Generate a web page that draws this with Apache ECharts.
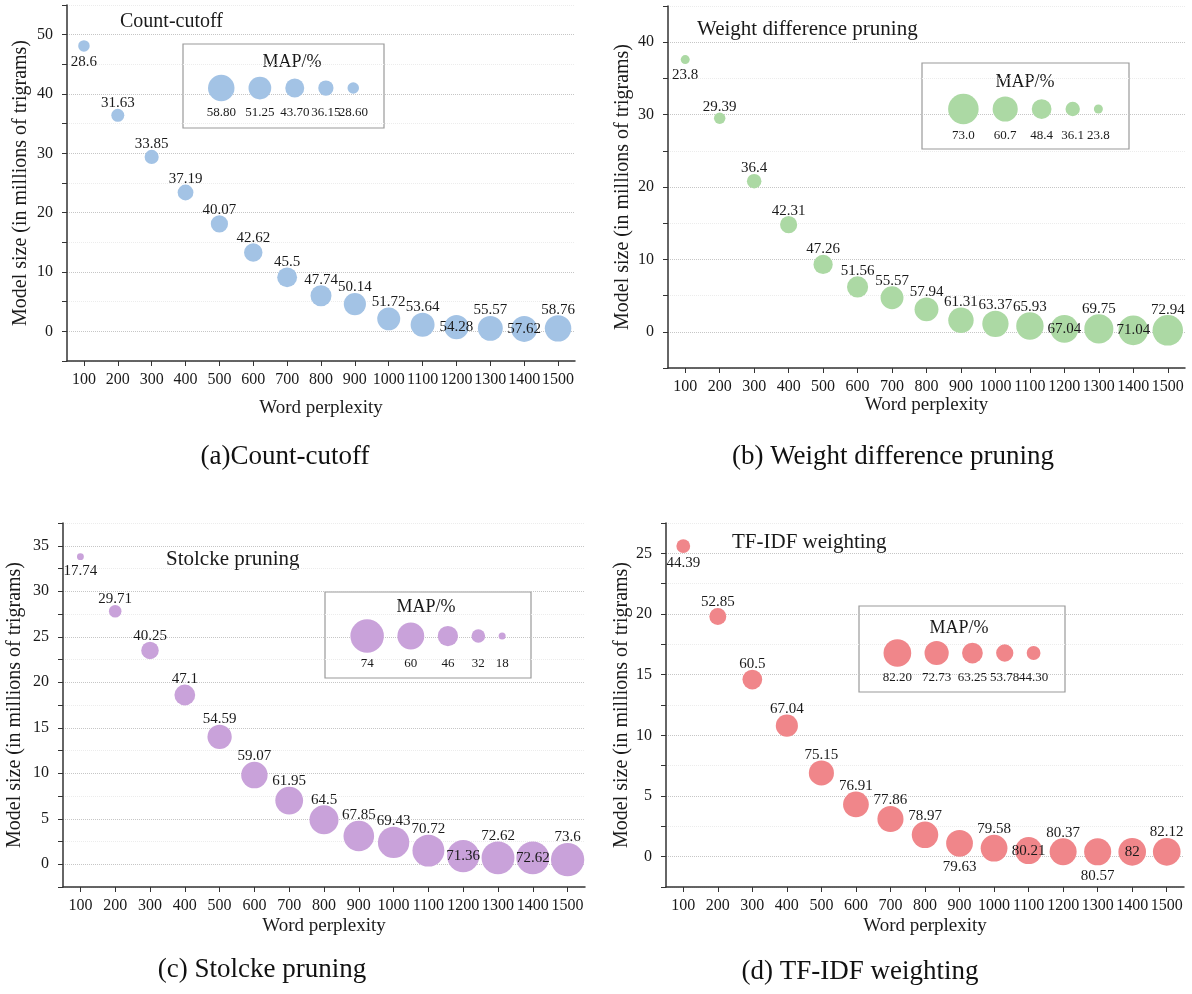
<!DOCTYPE html>
<html>
<head>
<meta charset="utf-8">
<script src="https://cdn.jsdelivr.net/npm/echarts@6/dist/echarts.min.js"></script>
<style>
  html, body { margin: 0; padding: 0; background: #fff; }
  #chart { width: 1192px; height: 994px; }
</style>
</head>
<body>
<div id="chart"></div>
<script>
const perplexity = ['100', '200', '300', '400', '500', '600', '700', '800', '900', '1000', '1100', '1200', '1300', '1400', '1500']

// (a) Count-cutoff
const sizeA = [48.1, 36.4, 29.4, 23.4, 18.1, 13.3, 9.1, 6.0, 4.6, 2.1, 1.1, 0.7, 0.5, 0.4, 0.5]
const mapA = [28.6, 31.63, 33.85, 37.19, 40.07, 42.62, 45.5, 47.74, 50.14, 51.72, 53.64, 54.28, 55.57, 57.62, 58.76]
const legendA = ['58.80', '51.25', '43.70', '36.15', '28.60']

// (b) Weight difference pruning
const sizeB = [37.6, 29.5, 20.8, 14.8, 9.3, 6.2, 4.7, 3.1, 1.6, 1.1, 0.8, 0.4, 0.4, 0.2, 0.2]
const mapB = [23.8, 29.39, 36.4, 42.31, 47.26, 51.56, 55.57, 57.94, 61.31, 63.37, 65.93, 67.04, 69.75, 71.04, 72.94]
const legendB = ['73.0', '60.7', '48.4', '36.1', '23.8']

// (c) Stolcke pruning
const sizeC = [33.8, 27.8, 23.5, 18.6, 14.0, 9.8, 7.0, 4.9, 3.1, 2.4, 1.5, 0.9, 0.7, 0.7, 0.5]
const mapC = [17.74, 29.71, 40.25, 47.1, 54.59, 59.07, 61.95, 64.5, 67.85, 69.43, 70.72, 71.36, 72.62, 72.62, 73.6]
const legendC = ['74', '60', '46', '32', '18']

// (d) TF-IDF weighting
const sizeD = [25.6, 19.8, 14.6, 10.8, 6.9, 4.3, 3.1, 1.8, 1.1, 0.7, 0.5, 0.4, 0.4, 0.4, 0.4]
const mapD = [44.39, 52.85, 60.5, 67.04, 75.15, 76.91, 77.86, 78.97, 79.63, 79.58, 80.21, 80.37, 80.57, 82, 82.12]
const legendD = ['82.20', '72.73', '63.25', '53.78', '44.30']

const serif = 'Liberation Serif'
const ink = '#1a1a1a'

const panels = [
  {
    title: 'Count-cutoff', caption: '(a)Count-cutoff', sizes: sizeA, maps: mapA, legend: legendA, color: '#a3c3e5',
    grid: { left: 67, top: 5, width: 508, height: 356 }, yMin: -5, yMax: 55, yStep: 5, yEvery: 10,
    dot: [28.6, 11.5, 58.8, 26.5],
    box: { left: 183, top: 44, width: 201, height: 84 }, rowY: 44, labelDy: 25, gap: 14, mapTitle: [292, 62],
    titlePos: [120, 22], titleSize: 20, captionPos: [285, 457], nameGap: 36, xNameGap: 38,
    sides: { 0: 'bottom', 11: 'inside', 13: 'inside' }
  },
  {
    title: 'Weight difference pruning', caption: '(b) Weight difference pruning', sizes: sizeB, maps: mapB, legend: legendB, color: '#acd9a4',
    grid: { left: 668, top: 6, width: 517, height: 362 }, yMin: -5, yMax: 45, yStep: 5, yEvery: 10,
    dot: [23.8, 9, 73, 30.5],
    box: { left: 922, top: 63, width: 207, height: 86 }, rowY: 46, labelDy: 27, gap: 14, mapTitle: [1025, 82],
    titlePos: [697, 29], titleSize: 21, captionPos: [893, 457], nameGap: 35, xNameGap: 28,
    sides: { 0: 'bottom', 11: 'inside', 13: 'inside' }
  },
  {
    title: 'Stolcke pruning', caption: '(c) Stolcke pruning', sizes: sizeC, maps: mapC, legend: legendC, color: '#c9a2da',
    grid: { left: 63, top: 523, width: 522, height: 364 }, yMin: -2.5, yMax: 37.5, yStep: 2.5, yEvery: 5,
    dot: [18, 7, 74, 33.5],
    box: { left: 325, top: 592, width: 206, height: 86 }, rowY: 44, labelDy: 28, gap: 13.5, mapTitle: [426, 607],
    titlePos: [166, 559], titleSize: 21, captionPos: [262, 970], nameGap: 38, xNameGap: 30,
    sides: { 0: 'bottom', 11: 'inside', 13: 'inside' }
  },
  {
    title: 'TF-IDF weighting', caption: '(d) TF-IDF weighting', sizes: sizeD, maps: mapD, legend: legendD, color: '#f0868a',
    grid: { left: 666, top: 523, width: 518, height: 364 }, yMin: -2.5, yMax: 27.5, yStep: 2.5, yEvery: 5,
    dot: [44.3, 13.8, 82.2, 27.7],
    box: { left: 859, top: 606, width: 206, height: 86 }, rowY: 47, labelDy: 25, gap: 13.3, mapTitle: [959, 628],
    titlePos: [732, 542], titleSize: 21, captionPos: [860, 972], nameGap: 31, xNameGap: 30,
    sides: { 0: 'bottom', 8: 'bottom', 10: 'inside', 12: 'bottom', 13: 'inside' }
  }
]

// bubble diameter grows linearly with MAP
function diam (p, v) {
  const [v0, d0, v1, d1] = p.dot
  return d0 + (v - v0) * (d1 - d0) / (v1 - v0)
}

// legend bubbles are packed with a fixed gap and centred in the box
function legendXs (p) {
  const ds = p.legend.map(s => diam(p, parseFloat(s)))
  const total = ds.reduce((a, b) => a + b, 0) + p.gap * (ds.length - 1)
  let x = (p.box.width - total) / 2
  return ds.map(d => {
    const c = x + d / 2
    x += d + p.gap
    return c
  })
}

const grid = []
const xAxis = []
const yAxis = []
const series = []
const graphic = []

panels.forEach(p => {
  const axisLine = { show: true, onZero: false, lineStyle: { color: '#333', width: 1.5 } }
  grid.push(Object.assign({}, p.grid))
  xAxis.push({
    gridIndex: grid.length - 1,
    type: 'category',
    data: perplexity,
    boundaryGap: true,
    name: 'Word perplexity',
    nameLocation: 'middle',
    nameGap: p.xNameGap,
    nameTextStyle: { fontFamily: serif, fontSize: 19, color: ink },
    axisLine: axisLine,
    axisTick: { show: true, alignWithLabel: true, length: 5, lineStyle: { color: '#333' } },
    axisLabel: { interval: 0, margin: 11, fontFamily: serif, fontSize: 16, color: ink },
    splitLine: { show: false }
  })
  yAxis.push({
    gridIndex: grid.length - 1,
    type: 'value',
    min: p.yMin,
    max: p.yMax,
    interval: p.yStep,
    name: 'Model size (in millions of trigrams)',
    nameLocation: 'middle',
    nameGap: p.nameGap,
    nameTextStyle: { fontFamily: serif, fontSize: 20, color: ink },
    axisLine: axisLine,
    axisTick: { show: true, length: 5, lineStyle: { color: '#333' } },
    axisLabel: {
      margin: 14, fontFamily: serif, fontSize: 16, color: ink,
      formatter: v => (v % p.yEvery === 0 ? String(v) : '')
    },
    splitLine: { show: true, lineStyle: { type: 'dotted', width: 1, color: ['#ececec', '#c6c6c6'] } }
  })
  series.push({
    type: 'scatter',
    xAxisIndex: xAxis.length - 1,
    yAxisIndex: yAxis.length - 1,
    symbol: 'circle',
    animation: false,
    emphasis: { disabled: true },
    data: p.sizes.map((y, k) => {
      const side = p.sides[k] || 'top'
      return {
        value: [perplexity[k], y, p.maps[k]],
        label: side === 'bottom' ? { position: side, distance: 3 } : { position: side }
      }
    }),
    symbolSize: v => diam(p, v[2]),
    itemStyle: { color: p.color, opacity: 1 },
    label: {
      show: true,
      distance: -2,
      fontFamily: serif,
      fontSize: 15,
      color: ink,
      formatter: q => String(p.maps[q.dataIndex])
    }
  })

  // MAP/% size legend, in its own box
  grid.push({
    left: p.box.left, top: p.box.top, width: p.box.width, height: p.box.height,
    show: true, borderColor: '#9a9a9a', borderWidth: 1.2, backgroundColor: 'transparent'
  })
  xAxis.push({ gridIndex: grid.length - 1, type: 'value', min: 0, max: p.box.width, show: false })
  yAxis.push({ gridIndex: grid.length - 1, type: 'value', min: 0, max: p.box.height, inverse: true, show: false })
  const xs = legendXs(p)
  series.push({
    type: 'scatter',
    xAxisIndex: xAxis.length - 1,
    yAxisIndex: yAxis.length - 1,
    symbol: 'circle',
    animation: false,
    emphasis: { disabled: true },
    data: p.legend.map((s, k) => [xs[k], p.rowY, parseFloat(s)]),
    symbolSize: v => diam(p, v[2]),
    itemStyle: { color: p.color, opacity: 1 },
    label: {
      show: true,
      position: 'inside',
      offset: [0, p.labelDy],
      fontFamily: serif,
      fontSize: 13,
      color: ink,
      formatter: q => p.legend[q.dataIndex]
    }
  })

  graphic.push(
    {
      type: 'text', x: p.titlePos[0], y: p.titlePos[1],
      style: { text: p.title, font: p.titleSize + 'px "' + serif + '"', fill: ink, align: 'left', verticalAlign: 'middle' }
    },
    {
      type: 'text', x: p.mapTitle[0], y: p.mapTitle[1],
      style: { text: 'MAP/%', font: '18px "' + serif + '"', fill: ink, align: 'center', verticalAlign: 'middle' }
    },
    {
      type: 'text', x: p.captionPos[0], y: p.captionPos[1],
      style: { text: p.caption, font: '27px "' + serif + '"', fill: '#111', align: 'center', verticalAlign: 'middle' }
    }
  )
})

const chart = echarts.init(document.getElementById('chart'))
chart.setOption({
  backgroundColor: '#fff',
  animation: false,
  textStyle: { fontFamily: serif },
  grid: grid,
  xAxis: xAxis,
  yAxis: yAxis,
  series: series,
  graphic: graphic
})
</script>
</body>
</html>
